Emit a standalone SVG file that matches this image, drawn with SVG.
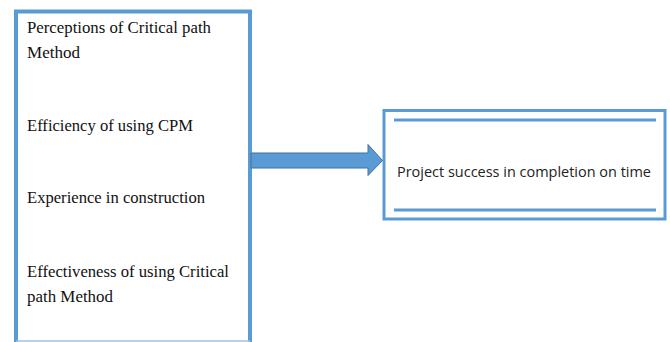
<svg xmlns="http://www.w3.org/2000/svg" width="670" height="342" viewBox="0 0 670 342">
<style>
.box{fill:#fff;stroke:#5B9BD5;}
.serif{font-family:"Liberation Serif","Times New Roman",serif;font-size:16.5px;fill:#111;}
.sans{font-family:"Open Sans","Liberation Sans",sans-serif;font-size:14.5px;fill:#222;}
</style>
<rect width="670" height="342" fill="#fff"/>
<g id="factors">
<path class="box" d="M16 343 V11.5 H250 V343" stroke-width="4"/>
<line x1="16" y1="341" x2="250" y2="341" stroke="#9DC3E6" stroke-width="1.5"/>
<text class="serif" x="27" y="33" textLength="184" lengthAdjust="spacingAndGlyphs">Perceptions of Critical path</text>
<text class="serif" x="27" y="58" textLength="53" lengthAdjust="spacingAndGlyphs">Method</text>
<text class="serif" x="27" y="131" textLength="166" lengthAdjust="spacingAndGlyphs">Efficiency of using CPM</text>
<text class="serif" x="27" y="203" textLength="178" lengthAdjust="spacingAndGlyphs">Experience in construction</text>
<text class="serif" x="27" y="277" textLength="202" lengthAdjust="spacingAndGlyphs">Effectiveness of using Critical</text>
<text class="serif" x="27" y="302" textLength="86" lengthAdjust="spacingAndGlyphs">path Method</text>
</g>
<g id="outcome">
<rect class="box" x="384" y="110.5" width="281" height="108.5" stroke-width="3"/>
<line x1="394" y1="120" x2="656" y2="120" stroke="#5B9BD5" stroke-width="3"/>
<line x1="394" y1="210" x2="656" y2="210" stroke="#5B9BD5" stroke-width="3"/>
<text class="sans" x="397" y="177" textLength="254" lengthAdjust="spacingAndGlyphs">Project success in completion on time</text>
</g>
<g id="connectors">
<path d="M251 153 H368 V144.5 L382.5 160.5 L368 175.5 V168 H251 Z" fill="#5B9BD5" stroke="#41719C" stroke-width="1"/>
</g>
</svg>
